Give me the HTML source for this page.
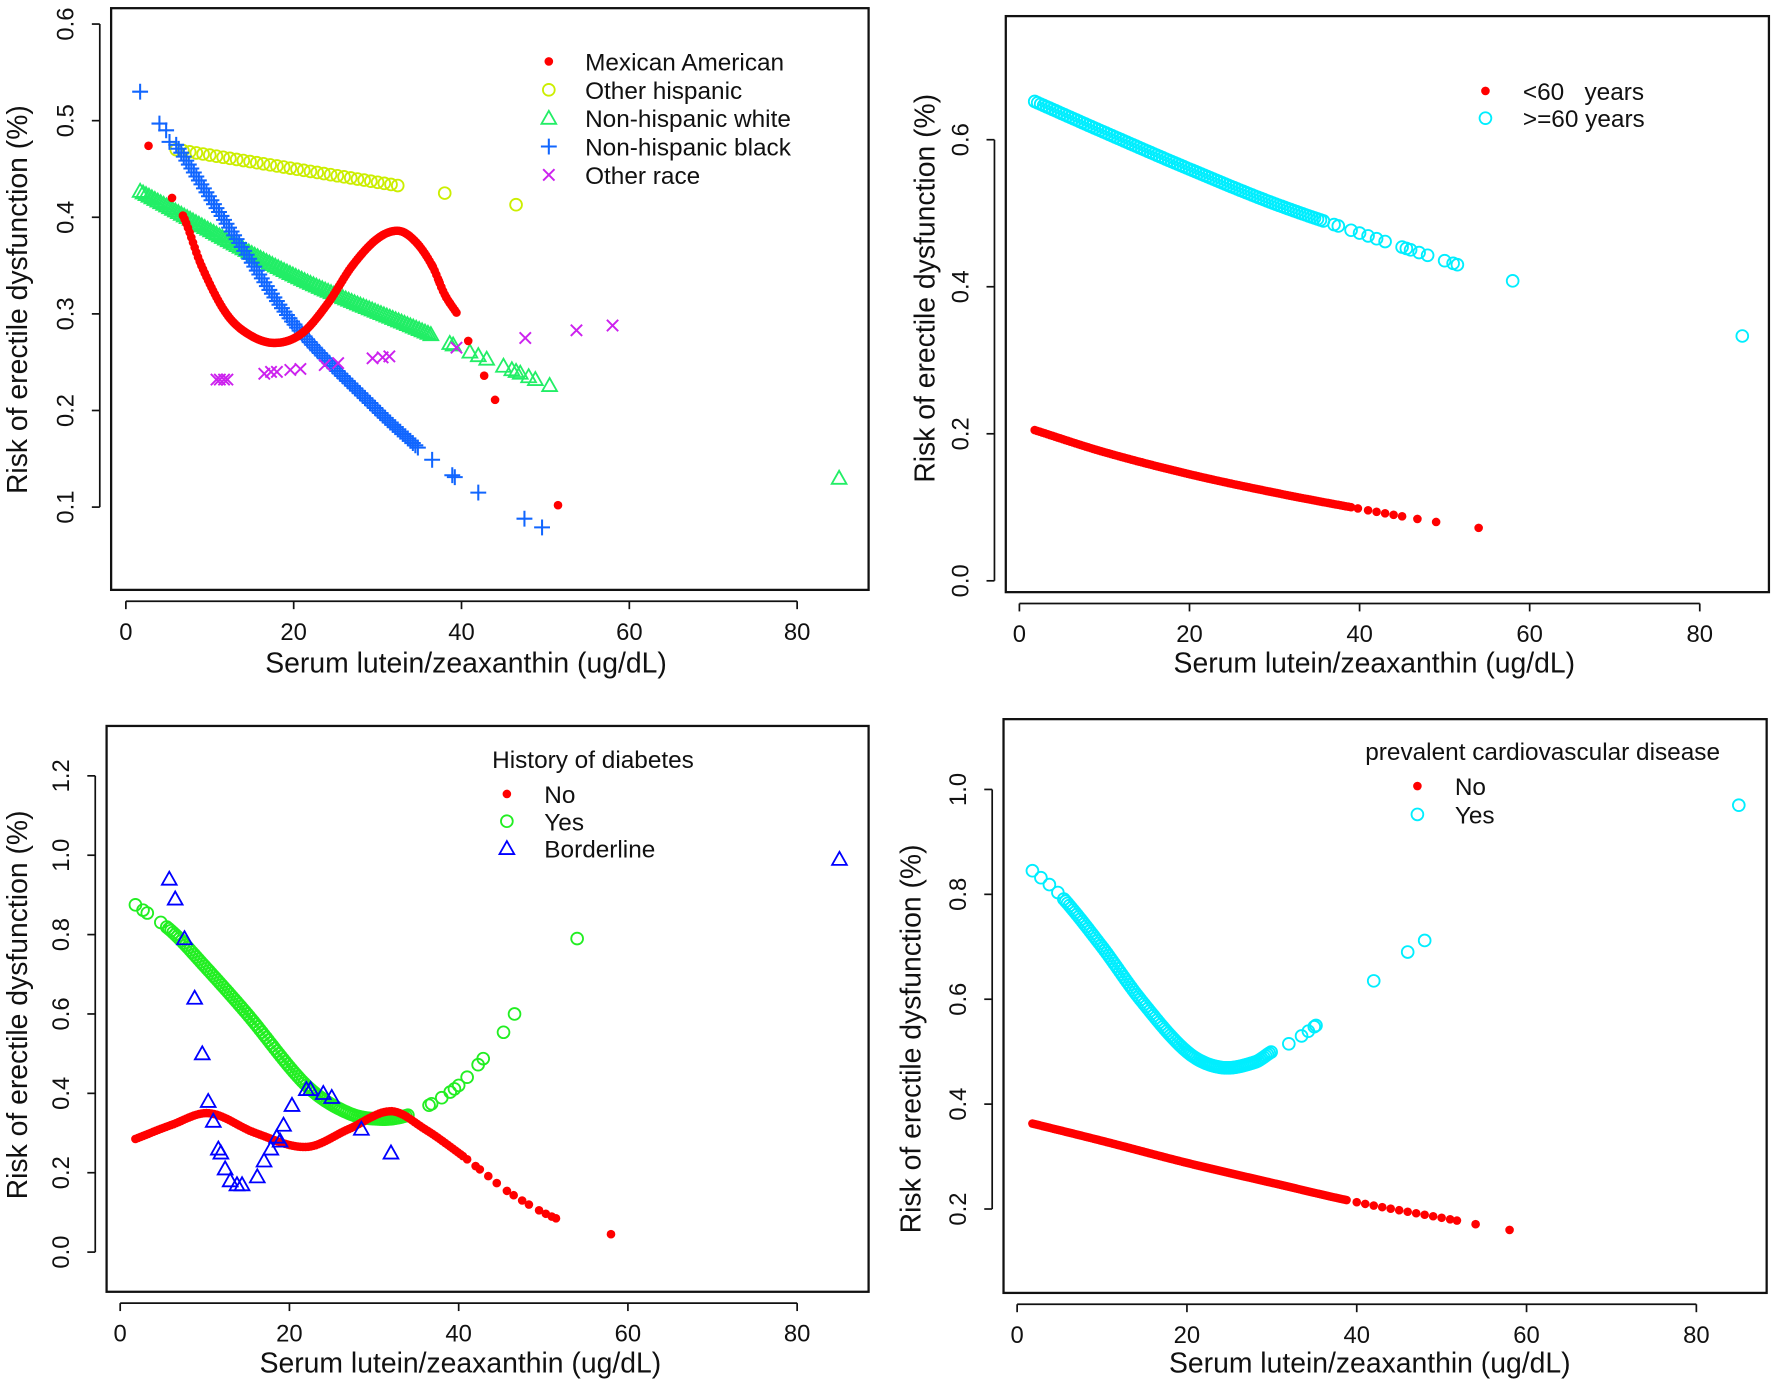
<!DOCTYPE html>
<html><head><meta charset="utf-8"><style>
html,body{margin:0;padding:0;background:#fff}
svg{display:block}
text{font-family:"Liberation Sans",Arial,sans-serif;fill:#111}
</style></head><body>
<svg id="s" width="1778" height="1385" viewBox="0 0 1568 1221" xmlns="http://www.w3.org/2000/svg">
<!-- titles -->
<g font-size="25" text-anchor="middle">
<text x="411" y="593">Serum lutein/zeaxanthin (ug/dL)</text>
<text x="24" y="264" transform="rotate(-90 24 264)">Risk of erectile dysfunction (%)</text>
<text x="1212" y="593">Serum lutein/zeaxanthin (ug/dL)</text>
<text x="824" y="254" transform="rotate(-90 824 254)">Risk of erectile dysfunction (%)</text>
<text x="406" y="1210">Serum lutein/zeaxanthin (ug/dL)</text>
<text x="24" y="886" transform="rotate(-90 24 886)">Risk of erectile dysfunction (%)</text>
<text x="1208" y="1210">Serum lutein/zeaxanthin (ug/dL)</text>
<text x="812" y="916" transform="rotate(-90 812 916)">Risk of erectile dysfunction (%)</text>
</g>
<!-- legends -->
<g font-size="21.5">
<text x="516" y="62">Mexican American</text>
<text x="516" y="87">Other hispanic</text>
<text x="516" y="112">Non-hispanic white</text>
<text x="516" y="137">Non-hispanic black</text>
<text x="516" y="162">Other race</text>
<text x="1343" y="88" xml:space="preserve">&lt;60   years</text>
<text x="1343" y="112">&gt;=60 years</text>
<text x="434" y="677">History of diabetes</text>
<text x="480" y="708">No</text>
<text x="480" y="732">Yes</text>
<text x="480" y="756">Borderline</text>
<text x="1204" y="670">prevalent cardiovascular disease</text>
<text x="1283" y="701">No</text>
<text x="1283" y="726">Yes</text>
</g>
<g id="g"></g>
</svg>
<script>
var NS="http://www.w3.org/2000/svg",G=document.getElementById('g');
function el(t,a){var e=document.createElementNS(NS,t);for(var k in a)e.setAttribute(k,a[k]);G.appendChild(e);return e;}
function panel(p){
 el('rect',{x:p.bx[0],y:p.by[0],width:p.bx[1]-p.bx[0],height:p.by[1]-p.by[0],fill:'none',stroke:'#111','stroke-width':2});
 var ay=p.by[1]+10;
 el('line',{x1:p.X(0),x2:p.X(80),y1:ay,y2:ay,stroke:'#111','stroke-width':1.5});
 [0,20,40,60,80].forEach(function(v){var x=p.X(v);el('line',{x1:x,x2:x,y1:ay,y2:ay+7,stroke:'#111','stroke-width':1.5});
  var t=el('text',{x:x,y:ay+34,'font-size':21,'text-anchor':'middle'});t.textContent=v;});
 var ax=p.bx[0]-10;
 el('line',{x1:ax,x2:ax,y1:p.Y(p.yt[0]),y2:p.Y(p.yt[p.yt.length-1]),stroke:'#111','stroke-width':1.5});
 p.yt.forEach(function(v){var y=p.Y(v);el('line',{x1:ax,x2:ax-7,y1:y,y2:y,stroke:'#111','stroke-width':1.5});
  var tx=ax-23;var t=el('text',{x:tx,y:y,'font-size':21,'text-anchor':'middle',transform:'rotate(-90 '+tx+' '+y+')'});t.textContent=v.toFixed(1);});
}
function mk(type,x,y,c){
 if(type=='dot')el('circle',{cx:x,cy:y,r:3.8,fill:c});
 else if(type=='circ')el('circle',{cx:x,cy:y,r:5.2,fill:'none',stroke:c,'stroke-width':1.6});
 else if(type=='tri')el('path',{d:'M'+x+' '+(y-6.5)+'L'+(x+6.5)+' '+(y+5)+'L'+(x-6.5)+' '+(y+5)+'Z',fill:'none',stroke:c,'stroke-width':1.6});
 else if(type=='plus')el('path',{d:'M'+(x-7)+' '+y+'H'+(x+7)+'M'+x+' '+(y-7)+'V'+(y+7),stroke:c,'stroke-width':1.8});
 else if(type=='x')el('path',{d:'M'+(x-5)+' '+(y-5)+'L'+(x+5)+' '+(y+5)+'M'+(x+5)+' '+(y-5)+'L'+(x-5)+' '+(y+5),stroke:c,'stroke-width':1.7});
}
function interp(cp,x){
 var n=cp.length;
 if(x<=cp[0][0])return cp[0][1];
 if(x>=cp[n-1][0])return cp[n-1][1];
 for(var i=0;i<n-1;i++){if(x<=cp[i+1][0]){
  var p0=cp[i],p1=cp[i+1];
  var h=p1[0]-p0[0],t=(x-p0[0])/h;
  function slope(j){ if(j==0)return (cp[1][1]-cp[0][1])/(cp[1][0]-cp[0][0]);
    if(j==n-1)return (cp[n-1][1]-cp[n-2][1])/(cp[n-1][0]-cp[n-2][0]);
    return (cp[j+1][1]-cp[j-1][1])/(cp[j+1][0]-cp[j-1][0]);}
  var m0=slope(i)*h,m1=slope(i+1)*h;
  var t2=t*t,t3=t2*t;
  return (2*t3-3*t2+1)*p0[1]+(t3-2*t2+t)*m0+(-2*t3+3*t2)*p1[1]+(t3-t2)*m1;
 }}
}
function series(p,type,c,cp,a,b,step,extra){
 for(var x=a;x<=b;x+=step)mk(type,p.X(x),p.Y(interp(cp,x)),c);
 (extra||[]).forEach(function(x){mk(type,p.X(x),p.Y(interp(cp,x)),c);});
}
function pts(p,type,c,arr){arr.forEach(function(q){mk(type,p.X(q[0]),p.Y(q[1]),c);});}
function lin(x0,px0,x1,px1){return function(v){return px0+(v-x0)*(px1-px0)/(x1-x0);};}

// Panel 1
var p1={bx:[98,766],by:[7,520],X:lin(0,111,80,703),Y:lin(0.6,21,0.1,447),yt:[0.1,0.2,0.3,0.4,0.5,0.6]};
panel(p1);
var YEL='#ccee00',GRN='#22ee66',BLU='#1166ff',PUR='#cc22ee',RED='#ff0000',CY='#00eeff';
series(p1,'circ',YEL,[[6,0.47],[33,0.432],[38,0.425],[46.5,0.413]],6,33,0.8,[38,46.5]);
series(p1,'tri',GRN,[[1.7,0.427],[20,0.34],[36,0.28],[39,0.268],[50.5,0.226]],1.7,36.5,0.35,[38.6,39,41,42,43,45,46,46.5,47,48,48.8,50.5]);
pts(p1,'tri',GRN,[[85,0.13]]);
series(p1,'plus',BLU,[[6,0.475],[13,0.38],[20,0.29],[30,0.2],[35,0.16]],6,35,0.3,[]);
pts(p1,'plus',BLU,[[1.7,0.53],[4,0.497],[4.8,0.49],[5.2,0.478],[36.5,0.149],[38.9,0.133],[39.2,0.131],[42,0.115],[47.5,0.088],[49.6,0.079]]);
series(p1,'dot',RED,[[5.5,0.42],[7,0.398],[9,0.35],[12,0.3],[15,0.277],[18,0.27],[21,0.28],[24,0.31],[27,0.35],[30,0.378],[32.5,0.386],[34.5,0.375],[36.5,0.35],[38,0.32],[39.5,0.3]],6.8,39.5,0.2,[5.5,36.5,37.3,37.6,38.2,38.6]);
pts(p1,'dot',RED,[[2.7,0.474],[40.8,0.272],[42.7,0.236],[44,0.211],[51.5,0.102]]);
pts(p1,'x',PUR,[[10.8,.232],[11.2,.232],[11.7,.232],[12.1,.232],[16.5,.238],[17.3,.24],[18,.24],[19.6,.242],[20.8,.243],[23.7,.247],[25.3,.249],[29.4,.254],[30.6,.255],[31.4,.256],[39.4,.265],[47.6,.275],[53.7,.283],[58,.288]]);
mk('dot',484,54,RED);mk('circ',484,79,YEL);mk('tri',484,104,GRN);mk('plus',484,129,BLU);mk('x',484,154,PUR);

// Panel 2
var p2={bx:[887,1560],by:[14,522],X:lin(0,899,80,1499),Y:lin(0,512,0.6,123),yt:[0,0.2,0.4,0.6]};
panel(p2);
series(p2,'dot',RED,[[1.8,0.205],[10,0.175],[20,0.145],[30,0.12],[40,0.098],[49,0.08],[54,0.072]],1.8,39,0.3,[39.8,41,42,43,44,45,46.8,49,54]);
series(p2,'circ',CY,[[1.8,0.652],[10,0.61],[20,0.56],[30,0.513],[40,0.473],[51.5,0.43],[58,0.408]],1.8,36,0.35,[37,37.5,39,40,41,42,43,45,45.5,46,47,48,50,51,51.5,58]);
pts(p2,'circ',CY,[[85,0.333]]);
mk('dot',1310,80,RED);mk('circ',1310,104,CY);

// Panel 3
var p3={bx:[94,766],by:[640,1139],X:lin(0,106,80,703),Y:lin(0,1104,1.2,684),yt:[0,0.2,0.4,0.6,0.8,1.0,1.2]};
panel(p3);
var G3='#22ee22',B3='#0000ff';
series(p3,'circ',G3,[[1.8,0.875],[6,0.81],[10,0.72],[15,0.6],[22,0.42],[27,0.35],[31,0.335],[34,0.345],[36.5,0.37],[40,0.42],[43,0.49],[45.5,0.56],[46.6,0.6],[54,0.79]],5.5,34,0.25,[1.8,2.7,3.2,4.8,36.5,36.8,38,39,39.5,40,41,42.3,42.9,45.3,46.6,54]);
series(p3,'dot',RED,[[1.8,0.285],[6,0.32],[10.5,0.35],[16,0.3],[22,0.265],[27,0.31],[32,0.355],[36,0.31],[40,0.25],[43,0.2],[46,0.15],[51.5,0.085],[58,0.045]],1.8,40.5,0.3,[41,42,42.5,43.5,44.5,45.7,46.5,47.5,48.3,49.5,50.3,51,51.5,58]);
pts(p3,'tri',B3,[[5.8,.94],[6.5,.89],[7.6,.79],[8.8,.64],[9.7,.50],[10.4,.38],[11,.33],[11.6,.26],[11.9,.25],[12.4,.21],[13,.18],[13.8,.17],[14.4,.17],[16.2,.19],[17,.23],[17.8,.26],[18.5,.29],[18.9,.28],[19.3,.32],[20.3,.37],[22,.41],[22.5,.41],[24,.40],[25,.39],[28.5,.31],[32,.25],[85,.99]]);
mk('dot',447,700,RED);mk('circ',447,724,G3);mk('tri',447,748,B3);

// Panel 4
var p4={bx:[885,1558],by:[634,1140],X:lin(0,897,80,1496),Y:lin(0.2,1066,1.0,696),yt:[0.2,0.4,0.6,0.8,1.0]};
panel(p4);
series(p4,'dot',RED,[[1.8,0.363],[10,0.33],[20,0.288],[30,0.25],[40,0.213],[51.8,0.178],[54,0.171],[58,0.16]],1.8,39,0.25,[40,41,42,43,44,45,46,47,48,49,50,51,51.8,54,58]);
series(p4,'circ',CY,[[1.8,0.845],[5,0.80],[10,0.70],[14.5,0.6],[20,0.5],[24,0.47],[28,0.48],[30,0.5],[32,0.515],[33.5,0.53],[35.2,0.55],[42,0.635],[46,0.69],[48,0.712]],5.5,30,0.22,[1.8,2.8,3.8,4.8,32,33.5,34.3,35,35.2,42,46,48]);
pts(p4,'circ',CY,[[85,0.97]]);
mk('dot',1250,693,RED);mk('circ',1250,718,CY);
</script>
</body></html>
